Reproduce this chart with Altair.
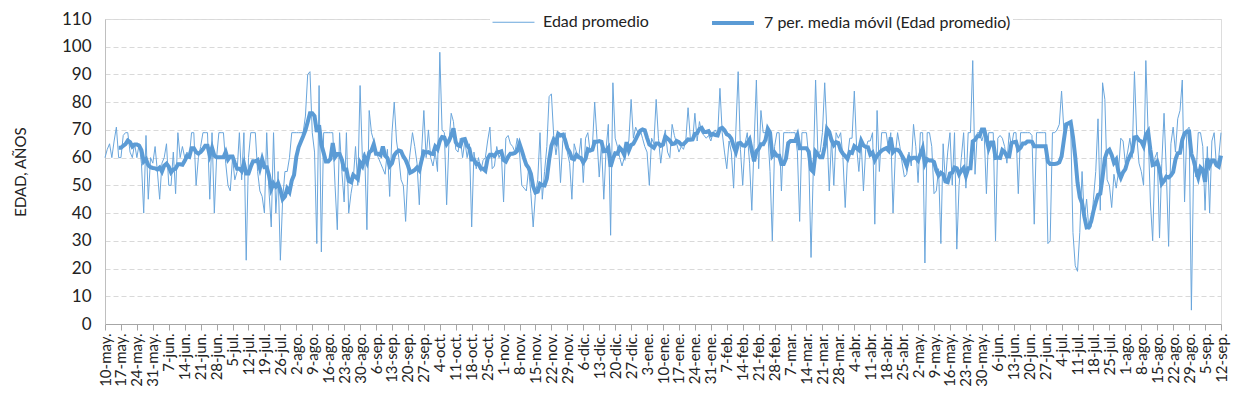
import altair as alt
import pandas as pd

# ---- data (one value per day, 10-may to 12-sep) ----
may_jun_2020 = [60,63,65,60,66,71,60,60,68,69, 69,62,60,65,60,65,58,40,68,45,
                60,58,64,55,45,58,60,65,50,50, 62,47,69,60,64,60,62,60,69,69]
jun_jul_2020 = [50,60,64,69,69,69,45,69,40,60, 69,69,69,58,50,48,60,52,55,69,
                52,69,23,60,69,69,69,55,48,46, 40,69,48,35,69,40,55,23,45,55]
jul_sep_2020 = [55,60,69,69,69,69,69,69,75,90, 91,69,62,29,86,26,69,69,69,69,
                69,50,34,69,55,44,69,40,47,52, 64,50,86,60,62,34,77,69,66,62, 60,58]
sep_oct_2020 = [56,54,63,46,69,80,66,60, 52,50,37,55,62,69,64,58,43,62,
                77,60,70,60,57,62,55,98,70,69, 43,65,76,73,63,62,67,60,66,60, 65,35,62]
oct_nov_2020 = [56,60,55,59,60,66,71, 56,57,64,60,62,44,67,68,65,64,
                62,67,62,50,49,48,56,47,35,47, 52,69,45,55,64,82,83,68,61,67, 51,66,69,62,58]
dic_ene_2021 = [45,65,62,60,67, 51,67,69,62,64,80,67,53,65,45,
                63,72,32,87,67,64,60,57,60,64, 66,81,67,71,69,70,67,64,62,50, 67,65,81,67,58,65]
ene_feb_2021 = [70,62,60,72, 68,65,62,64,63,66,78,67,66,76,
                66,73,69,68,67,68,66,69,70,68, 85,69,62,56,66,62,49,70,91,63, 50,65,69,58,41,65,88]
feb_abr_2021 = [56,77,69, 69,69,55,30,64,69,69,48,69,69,
                69,69,69,69,62,37,69,69,69,60, 24,56,88,62,62,69,87,69,48,67, 50,69,67,69,60,42,60,67]
abr_may_2021 = [67,84, 64,55,66,48,63,66,66,69,36,77,
                55,69,69,69,63,69,40,61,69,64, 58,53,54,62,57,72,64,51,69,69, 22,69,69,64,47,48,56,29,65]
may_jun_2021 = [51, 62,69,50,69,27,50,60,69,49,69,
                69,95,54,69,69,66,69,47,69,69, 69,30,67,68,67,64,58,69,64,69,
                69,47,69,69,69,69,69,68,36,69, 69]
jun_jul_2021 = [69,69,69,29,30,69,69,70,72, 84,70,70,72,72,33,21,19,33,55,
                38,45,34,35,45,55,74,41,87,81, 52,50,42,54,49,55,67,66,58,62, 67,60]
ago_sep_2021 = [91,68,58,55,50,95,69,44, 30,60,62,31,58,76,55,28,65,71,
                62,74,77,88,44,70,71,5,58,53, 69,69,64,41,64,40,66,69,57,60, 69]

edad = (may_jun_2020 + jun_jul_2020 + jul_sep_2020 + sep_oct_2020 + oct_nov_2020 +
        dic_ene_2021 + ene_feb_2021 + feb_abr_2021 + abr_may_2021 + may_jun_2021 +
        jun_jul_2021 + ago_sep_2021)

tick_labels = ["10-may.","17-may.","24-may.","31-may.","7-jun.","14-jun.","21-jun.","28-jun.",
               "5-jul.","12-jul.","19-jul.","26-jul.","2-ago.","9-ago.","16-ago.","23-ago.",
               "30-ago.","6-sep.","13-sep.","20-sep.","27-sep.","4-oct.","11-oct.","18-oct.",
               "25-oct.","1-nov.","8-nov.","15-nov.","22-nov.","29-nov.","6-dic.","13-dic.",
               "20-dic.","27-dic.","3-ene.","10-ene.","17-ene.","24-ene.","31-ene.","7-feb.",
               "14-feb.","21-feb.","28-feb.","7-mar.","14-mar.","21-mar.","28-mar.","4-abr.",
               "11-abr.","18-abr.","25-abr.","2-may.","9-may.","16-may.","23-may.","30-may.",
               "6-jun.","13-jun.","20-jun.","27-jun.","4-jul.","11-jul.","18-jul.","25-jul.",
               "1-ago.","8-ago.","15-ago.","22-ago.","29-ago.","5-sep.","12-sep."]

series_names = ["Edad promedio", "7 per. media móvil (Edad promedio)"]
series_colors = ["#6AA6DC", "#5B9BD5"]
series_widths = [1.0, 4]

# ---- table ----
df = pd.DataFrame({"dia": list(range(len(edad))), "valor": edad})
df["media"] = df["valor"].rolling(7).mean()
long = pd.concat([
    pd.DataFrame({"dia": df["dia"], "val": df["valor"], "serie": series_names[0], "ord": 0}),
    pd.DataFrame({"dia": df["dia"], "val": df["media"], "serie": series_names[1], "ord": 1}),
]).dropna()

n_last = len(edad) - 1
tick_vals = [i * 7 for i in range(len(tick_labels))]
label_js = "[" + ",".join("'" + s + "'" for s in tick_labels) + "]"

FONT = "Lato"

legend_kw = dict(title=None, orient="none", legendX=385, legendY=-21,
                 direction="horizontal", symbolType="stroke", symbolSize=1760,
                 labelFontSize=16, labelFont=FONT, labelColor="#222222",
                 columnPadding=55, labelOffset=8, labelLimit=0,
                 fillColor="white", padding=2)

chart = alt.Chart(long).mark_line(interpolate="linear").encode(
    x=alt.X("dia:Q",
            scale=alt.Scale(domain=[0, n_last], nice=False, zero=False),
            axis=alt.Axis(values=tick_vals, labelExpr=label_js + "[round(datum.value/7)]",
                          labelAngle=-90, labelAlign="right", labelBaseline="middle",
                          labelFontSize=15, labelPadding=3, tickSize=6, tickColor="#a6a6a6",
                          domainColor="#a6a6a6", grid=False, title=None,
                          labelOverlap=False, labelFont=FONT, labelColor="#222222")),
    y=alt.Y("val:Q",
            scale=alt.Scale(domain=[0, 110], nice=False),
            axis=alt.Axis(values=list(range(0, 111, 10)), title="EDAD, AÑOS",
                          titleFontSize=15, titleFontWeight="normal", titleFont=FONT,
                          titleColor="#222222", titlePadding=33,
                          labelFontSize=17, labelFont=FONT, labelColor="#222222",
                          labelPadding=14, ticks=False,
                          domainColor="#bfbfbf", gridColor="#d9d9d9", gridDash=[5, 3])),
    color=alt.Color("serie:N",
                    scale=alt.Scale(domain=series_names, range=series_colors),
                    legend=alt.Legend(**legend_kw)),
    strokeWidth=alt.StrokeWidth("serie:N",
                                scale=alt.Scale(domain=series_names, range=series_widths),
                                legend=alt.Legend(**legend_kw)),
    order=alt.Order("dia:Q"),
    detail="ord:N",
).properties(
    width=1116, height=305,
    autosize=alt.AutoSizeParams(type="none"),
    padding={"left": 97, "top": 11, "right": 10, "bottom": 89},
).configure_view(stroke=None).configure(background="white")

chart.save("out.html", embed_options={"renderer": "svg", "actions": False})
